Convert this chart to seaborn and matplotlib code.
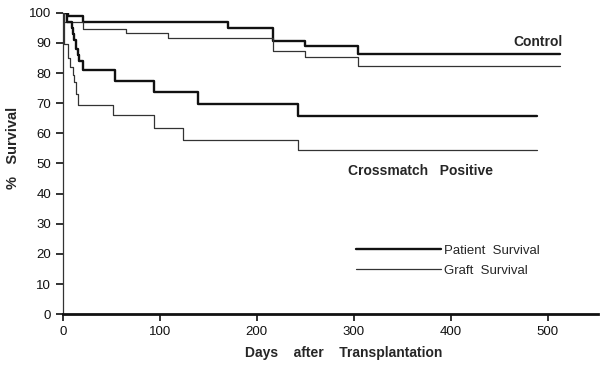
#!/usr/bin/env python3
"""Kaplan-Meier style survival curves: control vs crossmatch positive."""

import numpy as np
import pandas as pd
import matplotlib
matplotlib.use("Agg")
import matplotlib.pyplot as plt
import seaborn as sns

# ── data ────────────────────────────────────────────────────────────
ctrl_patient_days = [0, 5, 21, 170, 217, 250, 304, 513]
ctrl_patient_surv = [100, 98.8, 96.8, 95.0, 90.7, 89.0, 86.2, 86.2]

ctrl_graft_days = [0, 1, 21, 65, 108, 217, 250, 304, 513]
ctrl_graft_surv = [100, 97.0, 94.7, 93.2, 91.5, 87.5, 85.5, 82.2, 82.2]

xm_patient_days = [0, 4, 9, 11, 12, 14, 16, 17, 21, 54, 94, 139, 243, 489]
xm_patient_surv = [100, 97, 95, 93, 91, 88, 86, 84, 81, 77.5, 73.7, 69.6, 65.8, 65.8]

xm_graft_days = [0, 1, 5, 7, 10, 12, 14, 16, 52, 94, 124, 243, 489]
xm_graft_surv = [100, 89.5, 85, 82, 79.5, 77, 73, 69.4, 66.2, 61.7, 57.8, 54.5, 54.5]

x_ticks = [0, 100, 200, 300, 400, 500]
y_ticks = list(range(0, 101, 10))

# ── figure ──────────────────────────────────────────────────────────
sns.set_style("ticks")
plt.rcParams["font.family"] = ["Liberation Sans", "DejaVu Sans"]

fig = plt.figure(figsize=(6.04, 3.67), dpi=100)
ax = fig.add_axes([0.104, 0.144, 0.886, 0.821])

series = [
    (ctrl_patient_days, ctrl_patient_surv, 1.7, "#111111"),
    (ctrl_graft_days, ctrl_graft_surv, 0.9, "#333333"),
    (xm_patient_days, xm_patient_surv, 1.7, "#111111"),
    (xm_graft_days, xm_graft_surv, 0.9, "#333333"),
]
for days, surv, lw, col in series:
    df = pd.DataFrame({"days": days, "surv": surv})
    sns.lineplot(
        data=df, x="days", y="surv", ax=ax, estimator=None,
        drawstyle="steps-post", lw=lw, color=col, sort=False,
    )

# legend drawn like the original: line then label
ax.plot([], [], lw=1.7, color="#111111", label="Patient  Survival")
ax.plot([], [], lw=0.9, color="#333333", label="Graft  Survival")
ax.legend(
    loc="center left", bbox_to_anchor=(0.525, 0.178), frameon=False,
    fontsize=9.5, handlelength=6.5, handletextpad=0.2, labelspacing=0.6,
)

ax.text(490, 90.3, "Control", fontsize=10, fontweight="bold",
        ha="center", va="center")
ax.text(369, 47.5, "Crossmatch   Positive", fontsize=10,
        fontweight="bold", ha="center", va="center")

ax.set_xlim(0, 552)
ax.set_ylim(0, 100)
ax.set_xticks(x_ticks)
ax.set_yticks(y_ticks)
ax.tick_params(axis="both", labelsize=9.5, width=1.2, length=5,
               colors="#111111")
ax.set_xlabel("Days    after    Transplantation", fontsize=10,
              fontweight="bold")
ax.set_ylabel("%   Survival", fontsize=10.5, fontweight="bold")
ax.xaxis.set_label_coords(0.525, -0.105)
ax.yaxis.set_label_coords(-0.08, 0.55)

sns.despine(ax=ax)
ax.spines["bottom"].set_linewidth(2.0)
ax.spines["left"].set_linewidth(0.9)
ax.spines["bottom"].set_color("#111111")
ax.spines["left"].set_color("#333333")

fig.savefig("out.png", dpi=100)
plt.close(fig)
